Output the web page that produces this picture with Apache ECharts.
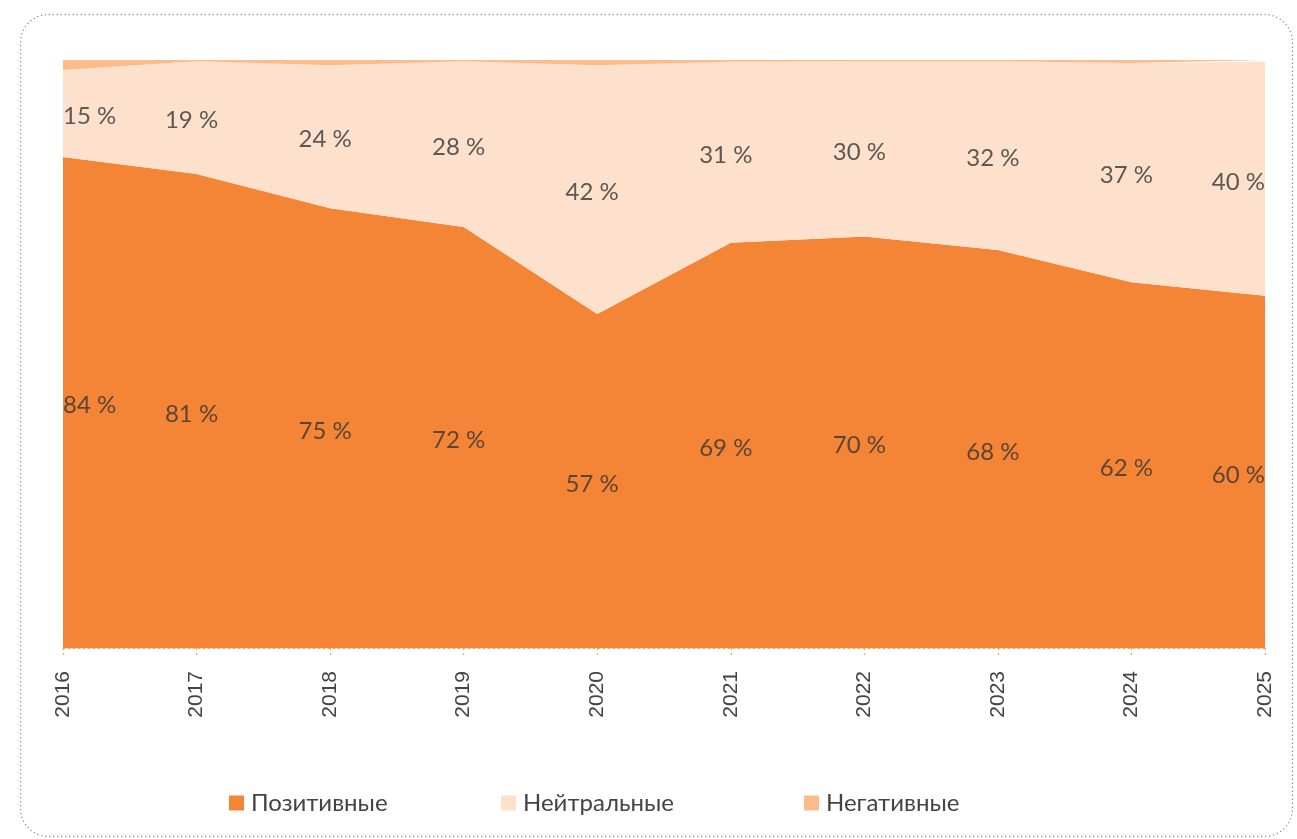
<!DOCTYPE html>
<html>
<head>
<meta charset="utf-8">
<script src="https://cdn.jsdelivr.net/npm/echarts@6/dist/echarts.min.js"></script>
<style>html,body{margin:0;padding:0;background:#fff;}#c{width:1297px;height:839px;}</style>
</head>
<body>
<div id="c"></div>
<script>
const years = ['2016','2017','2018','2019','2020','2021','2022','2023','2024','2025'];
const positive = [83.5, 80.6, 74.8, 71.6, 56.8, 68.9, 70.0, 67.7, 62.2, 59.9];
const neutral  = [14.8, 19.2, 24.3, 28.2, 42.3, 30.8, 29.8, 32.1, 37.3, 39.8];
const negative = [1.7, 0.2, 0.9, 0.2, 0.9, 0.3, 0.2, 0.2, 0.5, 0.3];
const names = ['Позитивные', 'Нейтральные', 'Негативные'];
const colors = ['#F58536', '#FDE1CC', '#FBBB8B'];

const FONT = 'Lato';
const last = years.length - 1;

function labelPoints(base, vals) {
  return vals.map((v, i) => {
    const b = base ? base[i] : 0;
    const item = { value: [i, b + v / 2, v] };
    if (i === 0) item.label = { align: 'left', offset: [0, 3] };
    if (i === last) item.label = { align: 'right', offset: [0, 3] };
    return item;
  });
}

const chart = echarts.init(document.getElementById('c'));
const areaSeries = (name, data, color) => ({
  name, type: 'line', stack: 'total', data,
  showSymbol: false, symbol: 'none',
  lineStyle: { width: 0 },
  areaStyle: { color, opacity: 1 },
  itemStyle: { color },
  emphasis: { disabled: true },
  z: 2
});
const labelSeries = (data) => ({
  type: 'scatter', data, symbolSize: 0, silent: true, z: 5,
  label: {
    show: true, position: 'inside', offset: [-5, 3],
    formatter: p => Math.round(p.value[2]) + ' %',
    color: '#353535', fontFamily: FONT, fontSize: 24
  }
});
const legendBase = (name, left) => ({
  data: [name], left, top: 786, itemWidth: 15, itemHeight: 15, itemGap: 0,
  icon: 'rect', selectedMode: false,
  textStyle: { color: '#444', fontFamily: FONT, fontSize: 24, padding: [0, 0, 0, 2] }
});

chart.setOption({
  animation: false,
  backgroundColor: '#fff',
  graphic: [{
    type: 'rect', silent: true, z: -10,
    shape: { x: 20.5, y: 14.5, width: 1272, height: 822, r: 28 },
    style: { fill: 'none', stroke: '#8f969e', lineWidth: 1.3, lineDash: [1.3, 2.7] }
  }],
  legend: [
    legendBase(names[0], 224),
    legendBase(names[1], 496),
    legendBase(names[2], 799)
  ],
  grid: { left: 63, right: 32, top: 60, bottom: 191 },
  xAxis: {
    type: 'category', data: years, boundaryGap: false, offset: 6,
    axisLine: { show: true, lineStyle: { color: '#F4A066', type: [2, 3], width: 1.2 } },
    axisTick: { show: true, length: 10, inside: false, lineStyle: { color: '#F4A066', type: [2, 3], width: 1.2 } },
    axisLabel: { rotate: 90, color: '#444', fontFamily: 'Liberation Sans', fontSize: 21, margin: 17 },
    splitLine: { show: false }
  },
  yAxis: {
    type: 'value', min: 0, max: 100, show: false,
    splitLine: { show: false }
  },
  series: [
    areaSeries(names[0], positive, colors[0]),
    areaSeries(names[1], neutral, colors[1]),
    areaSeries(names[2], negative, colors[2]),
    labelSeries(labelPoints(null, positive)),
    labelSeries(labelPoints(positive, neutral))
  ]
});
</script>
</body>
</html>
